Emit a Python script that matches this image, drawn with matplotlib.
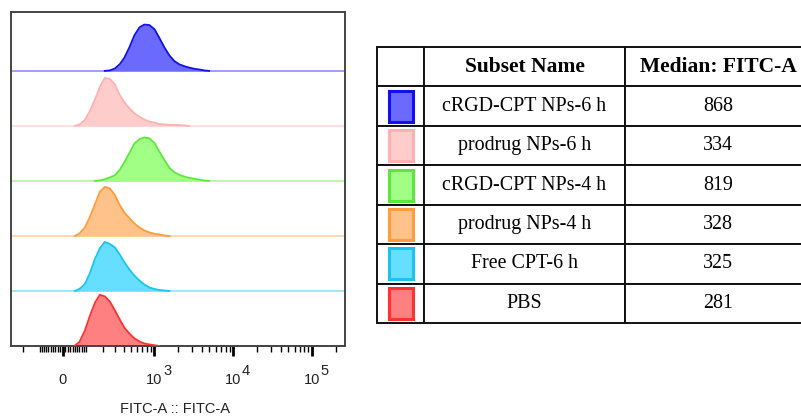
import numpy as np
import matplotlib
matplotlib.use("Agg")
import matplotlib.pyplot as plt
import matplotlib.transforms as mtransforms
from matplotlib.patches import Rectangle

plt.rcParams['font.family'] = ['Liberation Sans', 'DejaVu Sans']

# samples, top row first (as in the table)
subsets = ['cRGD-CPT NPs-6 h', 'prodrug NPs-6 h', 'cRGD-CPT NPs-4 h',
           'prodrug NPs-4 h', 'Free CPT-6 h', 'PBS']
medians = [868, 334, 819, 328, 325, 281]

# FITC-A channel values where the histogram heights were read
fitc_bins = [50, 70, 95, 120, 150, 180, 215, 255, 300, 350, 405, 475, 550, 640,
             740, 860, 1000, 1150, 1340, 1550, 1790, 2070, 2400, 2770, 3200,
             3700, 4300, 4950]

# heights, % of mode
h_crgd_6h = [0, 0, 0, 0, 0, 0, 0, 1, 5, 14, 28, 51, 76, 93, 99, 98, 89, 71, 50,
             33, 21, 14, 10, 7, 4.5, 3, 1, 0]
h_prodrug_6h = [0, 3, 12, 30, 55, 80, 99, 97, 86, 64, 49, 36, 26, 19, 13, 9,
                6.5, 4, 3, 2, 2, 1.5, 1, 0, 0, 0, 0, 0]
h_crgd_4h = [0, 0, 0, 0, 0, 1, 4, 8, 13, 25, 43, 65, 86, 96, 100, 98, 87, 68,
             48, 30, 20, 14, 10, 7, 5, 3, 1, 0]
h_prodrug_4h = [0, 5, 17, 37, 64, 88, 98, 95, 82, 62, 47, 35, 25, 17, 11, 7,
                4.5, 3, 1, 0, 0, 0, 0, 0, 0, 0, 0, 0]
h_free_cpt = [0, 4, 14, 35, 65, 86, 99, 95, 88, 74, 58, 43, 31, 21, 13, 7, 4,
              2, 1, 0, 0, 0, 0, 0, 0, 0, 0, 0]
h_pbs = [1, 8, 30, 58, 85, 100, 97, 87, 70, 52, 36, 24, 15, 9, 5, 3, 1.5, 0,
         0, 0, 0, 0, 0, 0, 0, 0, 0, 0]
heights = [h_crgd_6h, h_prodrug_6h, h_crgd_4h, h_prodrug_4h, h_free_cpt, h_pbs]
# peak height of each trace relative to its lane
mode_scale = [0.85, 0.88, 0.79, 0.91, 0.90, 0.93]

edge_colors = ['#1010f0', '#ffb0b0', '#5ce83a', '#ff9c3c', '#18c4f2', '#ff3232']
fill_colors = ['#6a6aff', '#ffcccc', '#a2ff86', '#ffc38a', '#66dfff', '#ff8080']

fig = plt.figure(figsize=(8.01, 4.16), dpi=100)

# ---- stacked histograms ----
ax = fig.add_axes([11 / 801, 70 / 416, 334 / 801, 334 / 416])
ax.set_xscale('asinh', linear_width=138)
n = len(subsets)
x = np.array(fitc_bins, dtype=float)
for i in range(n):
    base = n - 1 - i
    h = np.array(heights[i], dtype=float)
    nz = np.nonzero(h)[0]
    lo, hi = max(nz[0] - 1, 0), min(nz[-1] + 1, len(h) - 1)
    xs = x[lo:hi + 1]
    y = base + h[lo:hi + 1] / 100 * mode_scale[i]
    ax.axhline(base, color=edge_colors[i], alpha=0.4, lw=1.4, zorder=1)
    ax.fill_between(xs, base, y, color=fill_colors[i], lw=0, zorder=2)
    ax.plot(xs, y, color=edge_colors[i], lw=1.3, zorder=3)

ax.set_xlim(-298, 262144)
ax.set_ylim(0, 6.07)
ax.set_yticks([])
for s in ax.spines.values():
    s.set_color('#444444')
    s.set_linewidth(1.4)

major = [0, 1e3, 1e4, 1e5]
minor = ([-200, -100] + list(range(-90, 100, 10)) + list(range(100, 1000, 100))
         + list(range(2000, 10000, 1000)) + list(range(20000, 100000, 10000))
         + [200000])
ax.set_xticks(major)
ax.set_xticklabels([''] * len(major))
ax.set_xticks(minor, minor=True)
ax.tick_params(axis='x', which='major', direction='out', length=7, width=2,
               color='black')
ax.tick_params(axis='x', which='minor', direction='out', length=4, width=1,
               color='black')

# FlowJo style labels: full size exponent
trans = mtransforms.blended_transform_factory(ax.transData, ax.transAxes)
lab_y = -0.114
ax.text(0, lab_y, '0', transform=trans, ha='center', va='baseline',
        fontsize=10.5, color='#222222')
for v in major[1:]:
    ax.text(v, lab_y, '10', transform=trans, ha='center', va='baseline',
            fontsize=10.5, color='#222222')
    etr = mtransforms.offset_copy(trans, fig=fig, x=8.5, y=9, units='dots')
    ax.text(v, lab_y, str(int(round(np.log10(v)))), transform=etr, ha='left',
            va='baseline', fontsize=10.5, color='#222222')

ax.set_xlabel('FITC-A :: FITC-A', fontsize=10.5, color='#222222')
ax.xaxis.set_label_coords(0.49, -0.167)
ax.xaxis.label.set_va('top')

# ---- legend table ----
tax = fig.add_axes([377 / 801, 93 / 416, 434 / 801, 276 / 416])
tax.axis('off')
cell_text = [['', 'Subset Name', 'Median: FITC-A']]
cell_text += [['', s, str(m)] for s, m in zip(subsets, medians)]
col_w = [47 / 434, 201 / 434, 186 / 434]
tbl = tax.table(cellText=cell_text, colWidths=col_w, cellLoc='center',
                bbox=[0, 0, 1, 1])
tbl.auto_set_font_size(False)
for (r, c), cell in tbl.get_celld().items():
    cell.set_edgecolor('#111111')
    cell.set_linewidth(1.4)
    txt = cell.get_text()
    txt.set_fontfamily('Liberation Serif')
    if r == 0:
        txt.set_fontsize(15.5)
        txt.set_fontweight('bold')
    else:
        txt.set_fontsize(14.4)

rows = n + 1
sw_w, sw_h = 24 / 434, 31 / 276
for i in range(n):
    cy = 1 - (i + 1.5) / rows
    tax.add_patch(Rectangle((24 / 434 - sw_w / 2, cy - sw_h / 2), sw_w, sw_h,
                            facecolor=fill_colors[i], edgecolor=edge_colors[i],
                            lw=2.2, transform=tax.transAxes, zorder=5))

fig.savefig('out.png', dpi=100)
